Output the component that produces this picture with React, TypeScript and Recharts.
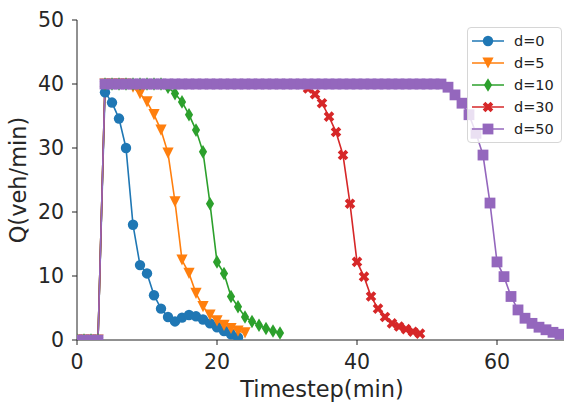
import { LineChart, Line, XAxis, YAxis, Legend, Label } from "recharts"

// flow per timestep (index = timestep in minutes), one list per delay d
const flowD0 = [
  0, 0, 0, 0, 38.7, 37.1, 34.6, 30.0, 18.0, 11.7,
  10.4, 7.0, 4.9, 3.6, 2.9, 3.5, 3.9, 3.7, 3.2, 2.6,
  2.0, 1.4, 0.9, 0.4,
]
const flowD5 = [
  0, 0, 0, 0, 40, 40, 40, 40, 39.5, 38.5,
  37.2, 35.2, 32.8, 29.2, 21.6, 12.5, 10.4, 7.3, 5.2, 3.9,
  3.0, 2.3, 1.8, 1.4, 1.1,
]
const flowD10 = [
  0, 0, 0, 0, 40, 40, 40, 40, 40, 40,
  40, 40, 40, 39.5, 38.5, 37.2, 35.2, 32.8, 29.4, 21.3,
  12.2, 10.4, 6.8, 5.2, 3.6, 2.9, 2.3, 1.8, 1.4, 1.1,
]
const flowD30 = [
  0, 0, 0, 0, 40, 40, 40, 40, 40, 40,
  40, 40, 40, 40, 40, 40, 40, 40, 40, 40,
  40, 40, 40, 40, 40, 40, 40, 40, 40, 40,
  40, 40, 40, 39.3, 38.4, 37.0, 34.9, 32.5, 28.9, 21.3,
  12.2, 9.9, 6.8, 4.9, 3.6, 2.6, 2.1, 1.7, 1.3, 1.0,
]
const flowD50 = [
  0, 0, 0, 0, 40, 40, 40, 40, 40, 40,
  40, 40, 40, 40, 40, 40, 40, 40, 40, 40,
  40, 40, 40, 40, 40, 40, 40, 40, 40, 40,
  40, 40, 40, 40, 40, 40, 40, 40, 40, 40,
  40, 40, 40, 40, 40, 40, 40, 40, 40, 40,
  40, 40, 40, 39.5, 38.3, 37.0, 35.2, 32.3, 28.9, 21.4,
  12.2, 9.9, 6.8, 4.7, 3.4, 2.6, 2.0, 1.6, 1.2, 0.9,
]

const xTicks = [0, 20, 40, 60]
const yTicks = [0, 10, 20, 30, 40, 50]

type Shape = "circle" | "triangleDown" | "thinDiamond" | "x" | "square"

const series: { key: string; name: string; values: number[]; color: string; shape: Shape }[] = [
  { key: "d0", name: "d=0", values: flowD0, color: "#1f77b4", shape: "circle" },
  { key: "d5", name: "d=5", values: flowD5, color: "#ff7f0e", shape: "triangleDown" },
  { key: "d10", name: "d=10", values: flowD10, color: "#2ca02c", shape: "thinDiamond" },
  { key: "d30", name: "d=30", values: flowD30, color: "#d62728", shape: "x" },
  { key: "d50", name: "d=50", values: flowD50, color: "#9467bd", shape: "square" },
]

const maxLen = Math.max(...series.map((s) => s.values.length))
const data = Array.from({ length: maxLen }, (_, i) => {
  const row: Record<string, number | null> = { t: i }
  series.forEach((s) => {
    row[s.key] = i < s.values.length ? s.values[i] : null
  })
  return row
})

function Marker({ shape, color, cx, cy }: { shape: Shape; color: string; cx: number; cy: number }) {
  if (shape === "circle") return <circle cx={cx} cy={cy} r={5.2} fill={color} />
  if (shape === "square") return <rect x={cx - 5.4} y={cy - 5.4} width={10.8} height={10.8} fill={color} />
  if (shape === "triangleDown") {
    const s = 5.6
    return <polygon points={`${cx - s},${cy - s} ${cx + s},${cy - s} ${cx},${cy + s}`} fill={color} />
  }
  if (shape === "thinDiamond") {
    return (
      <polygon
        points={`${cx},${cy - 6.8} ${cx + 4.1},${cy} ${cx},${cy + 6.8} ${cx - 4.1},${cy}`}
        fill={color}
      />
    )
  }
  // filled X: a plus rotated by 45 degrees
  const a = 5.6
  const b = 1.9
  const plus = [
    [b, -a], [b, -b], [a, -b], [a, b], [b, b], [b, a],
    [-b, a], [-b, b], [-a, b], [-a, -b], [-b, -b], [-b, -a],
  ]
  const pts = plus
    .map(([x, y]) => `${cx + (x - y) / Math.SQRT2},${cy + (x + y) / Math.SQRT2}`)
    .join(" ")
  return <polygon points={pts} fill={color} />
}

const makeDot = (shape: Shape, color: string) => (props: any) => {
  const { cx, cy, index, value } = props
  if (cx == null || cy == null || value == null) return <g key={`dot-${index}`} />
  return (
    <g key={`dot-${index}`}>
      <Marker shape={shape} color={color} cx={cx} cy={cy} />
    </g>
  )
}

function LegendBox() {
  return (
    <div
      style={{
        background: "rgba(255,255,255,0.8)",
        border: "1px solid #d6d6d6",
        borderRadius: 4,
        padding: "2px 7px 2px 4px",
        fontFamily: "DejaVu Sans",
        fontSize: 14.5,
        color: "#222",
      }}
    >
      {series.map((s) => (
        <div key={s.key} style={{ display: "flex", alignItems: "center", height: 22 }}>
          <svg width={32} height={16} style={{ marginRight: 10 }}>
            <line x1={0} y1={8} x2={32} y2={8} stroke={s.color} strokeWidth={1.5} />
            <Marker shape={s.shape} color={s.color} cx={16} cy={8} />
          </svg>
          <span>{s.name}</span>
        </div>
      ))}
    </div>
  )
}

const axisColor = "#222"
const tickStyle = { fill: "#262626", fontSize: 20.5, fontFamily: "DejaVu Sans" }

export default function App() {
  return (
    <div
      style={{
        position: "absolute",
        left: 0,
        top: 0,
        width: 564,
        height: 403,
        overflow: "hidden",
        background: "#fff",
        fontFamily: "DejaVu Sans",
      }}
    >
      <LineChart width={567} height={403} data={data} margin={{ top: 20, right: 0, bottom: 0, left: 0 }}>
        <XAxis
          dataKey="t"
          type="number"
          domain={[0, 70]}
          ticks={xTicks}
          allowDataOverflow
          height={63}
          tickSize={5}
          tickMargin={9}
          stroke={axisColor}
          tick={tickStyle}
        >
          <Label
            value="Timestep(min)"
            position="insideBottom"
            offset={6}
            style={{ fill: "#262626", fontSize: 22.5, fontFamily: "DejaVu Sans" }}
          />
        </XAxis>
        <YAxis
          type="number"
          domain={[0, 50]}
          ticks={yTicks}
          allowDataOverflow
          width={77}
          tickSize={5}
          tickMargin={8}
          stroke={axisColor}
          tick={tickStyle}
        >
          <Label
            content={({ viewBox }: any) => {
              const cy = viewBox.y + viewBox.height / 2
              const cx = 18
              return (
                <text
                  x={cx}
                  y={cy}
                  transform={`rotate(-90 ${cx} ${cy})`}
                  textAnchor="middle"
                  dominantBaseline="central"
                  fill="#262626"
                  fontSize={22.5}
                  fontFamily="DejaVu Sans"
                >
                  Q(veh/min)
                </text>
              )
            }}
          />
        </YAxis>
        <Legend
          layout="vertical"
          align="center"
          verticalAlign="middle"
          wrapperStyle={{ top: 27, left: 467, width: "auto" }}
          content={() => <LegendBox />}
        />
        {series.map((s) => (
          <Line
            key={s.key}
            dataKey={s.key}
            name={s.name}
            type="linear"
            stroke={s.color}
            strokeWidth={1.6}
            dot={makeDot(s.shape, s.color)}
            activeDot={false}
            isAnimationActive={false}
          />
        ))}
      </LineChart>
    </div>
  )
}
